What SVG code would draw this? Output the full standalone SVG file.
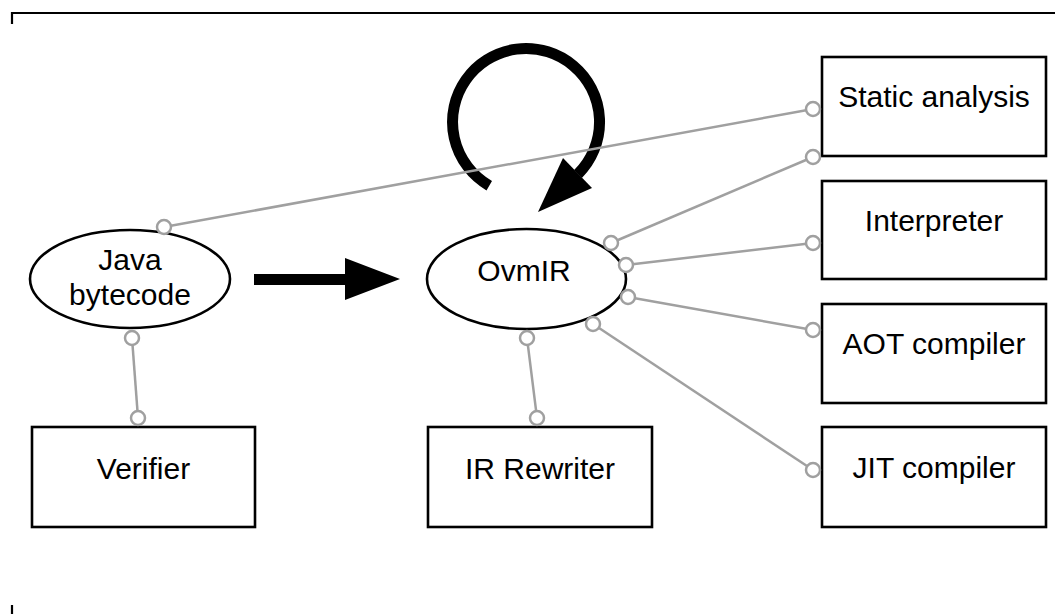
<svg xmlns="http://www.w3.org/2000/svg" width="1055" height="614" viewBox="0 0 1055 614">
<style>
.box{fill:#fff;stroke:#000;stroke-width:2.6}
.ell{fill:#fff;stroke:#000;stroke-width:2.6}
.lbl{font-family:"Liberation Sans",Arial,sans-serif;font-size:30px;fill:#000;text-anchor:middle}
.con{stroke:#a0a0a0;stroke-width:2.5;fill:none}
.end{fill:#fff;stroke:#a0a0a0;stroke-width:2.5}
.frame{fill:none;stroke:#000;stroke-width:2.2}
</style>
<rect width="1055" height="614" fill="#fff"/>
<path class="frame" d="M12,24 V13 H1055 M12,605 V614"/>

<g id="node-java">
<ellipse class="ell" cx="130" cy="279" rx="100" ry="49"/>
<text class="lbl" x="130" y="270">Java</text>
<text class="lbl" x="130" y="305">bytecode</text>
</g>
<g id="node-ovmir">
<ellipse class="ell" cx="526.5" cy="279" rx="99.5" ry="50"/>
<text class="lbl" x="524" y="281">OvmIR</text>
</g>
<g id="node-static">
<rect class="box" x="822" y="57" width="224" height="99"/>
<text class="lbl" x="934" y="107">Static analysis</text>
</g>
<g id="node-interp">
<rect class="box" x="822" y="181" width="224" height="98"/>
<text class="lbl" x="934" y="231">Interpreter</text>
</g>
<g id="node-aot">
<rect class="box" x="822" y="304" width="224" height="99"/>
<text class="lbl" x="934" y="354">AOT compiler</text>
</g>
<g id="node-jit">
<rect class="box" x="822" y="427" width="224" height="100"/>
<text class="lbl" x="934" y="478">JIT compiler</text>
</g>
<g id="node-verifier">
<rect class="box" x="32" y="427" width="223" height="100"/>
<text class="lbl" x="143.5" y="479">Verifier</text>
</g>
<g id="node-rewriter">
<rect class="box" x="428" y="427" width="224" height="100"/>
<text class="lbl" x="540" y="479">IR Rewriter</text>
</g>

<g id="connectors">
<path d="M254,274 H345 V258 L400,279 L345,300 V285 H254 Z" fill="#000"/>
<path d="M489.25,185.65 A73.5,73.5 0 1 1 578,174" fill="none" stroke="#000" stroke-width="11"/>
<path d="M538,212 L563,158 L592,188 Z" fill="#000"/>
<g>
<line class="con" x1="164" y1="227" x2="813" y2="109"/>
<line class="con" x1="611" y1="243" x2="813" y2="157"/>
<line class="con" x1="626" y1="265" x2="813" y2="243"/>
<line class="con" x1="628" y1="297" x2="813" y2="330"/>
<line class="con" x1="593" y1="324" x2="813" y2="470"/>
<line class="con" x1="527" y1="338" x2="537" y2="418"/>
<line class="con" x1="132" y1="338" x2="138" y2="418"/>
</g>
<g>
<circle class="end" cx="164" cy="227" r="7"/>
<circle class="end" cx="813" cy="109" r="7"/>
<circle class="end" cx="611" cy="243" r="7"/>
<circle class="end" cx="813" cy="157" r="7"/>
<circle class="end" cx="626" cy="265" r="7"/>
<circle class="end" cx="813" cy="243" r="7"/>
<circle class="end" cx="628" cy="297" r="7"/>
<circle class="end" cx="813" cy="330" r="7"/>
<circle class="end" cx="593" cy="324" r="7"/>
<circle class="end" cx="813" cy="470" r="7"/>
<circle class="end" cx="527" cy="338" r="7"/>
<circle class="end" cx="537" cy="418" r="7"/>
<circle class="end" cx="132" cy="338" r="7"/>
<circle class="end" cx="138" cy="418" r="7"/>
</g>
</g>
</svg>
